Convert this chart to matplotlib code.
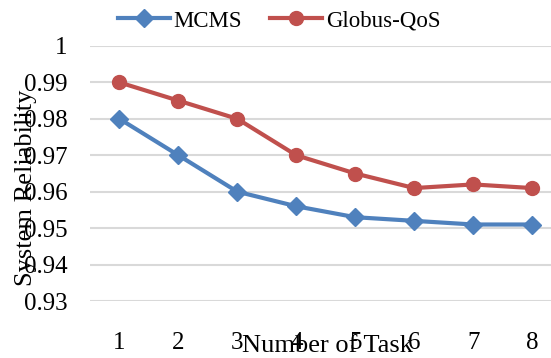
import numpy as np
import matplotlib.pyplot as plt

plt.rcParams['font.family'] = ['Liberation Serif', 'DejaVu Serif']

tasks = [1, 2, 3, 4, 5, 6, 7, 8]
mcms = [0.980, 0.970, 0.960, 0.956, 0.953, 0.952, 0.951, 0.951]
globus = [0.990, 0.985, 0.980, 0.970, 0.965, 0.961, 0.962, 0.961]
yticks = [0.93, 0.94, 0.95, 0.96, 0.97, 0.98, 0.99, 1.0]
ytick_labels = ['0.93', '0.94', '0.95', '0.96', '0.97', '0.98', '0.99', '1']

fig = plt.figure(figsize=(5.51, 3.58), dpi=100)
ax = fig.add_axes([90 / 551, 1 - 301 / 358, 1 - 90 / 551, (301 - 46) / 358])

ax.plot(tasks, mcms, color='#4F81BD', lw=3, marker='D', ms=9, label='MCMS')
ax.plot(tasks, globus, color='#C0504D', lw=3, marker='o', ms=10, label='Globus-QoS')

ax.set_xlim(0.5, 8.32)
ax.set_ylim(0.93, 1.0)
ax.set_yticks(yticks)
ax.set_yticklabels(ytick_labels)
ax.set_xticks(tasks)
ax.tick_params(axis='both', length=0, labelsize=18)
ax.tick_params(axis='y', pad=16)
ax.tick_params(axis='x', pad=22)

ax.grid(axis='y', color='#D9D9D9', lw=1.5)
ax.set_axisbelow(True)
for s in ax.spines.values():
    s.set_visible(False)

# axis titles sit partly over the tick labels
fig.text(26 / 551, 1 - 188 / 358, 'System Reliability', rotation=90,
         ha='center', va='center', fontsize=19)
fig.text(327 / 551, 1 - 346 / 358, 'Number of Task', ha='center', va='center',
         fontsize=19)

fig.legend(loc='center', bbox_to_anchor=(279 / 551, 1 - 21 / 358), ncol=2,
           frameon=False, fontsize=16.5, handlelength=2.3, columnspacing=1.2,
           handletextpad=0.15)

fig.savefig('out.png', dpi=100)
